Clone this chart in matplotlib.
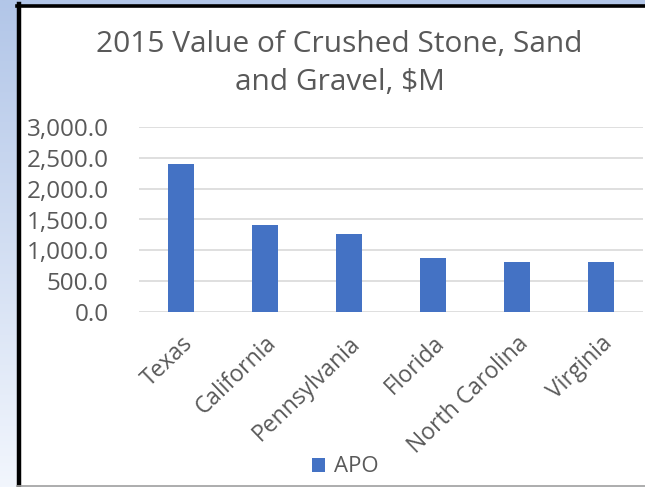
import numpy as np
import matplotlib
matplotlib.use("Agg")
import matplotlib.pyplot as plt
from matplotlib.patches import Rectangle

# data
states = ["Texas", "California", "Pennsylvania", "Florida", "North Carolina", "Virginia"]
values = [2400.0, 1405.0, 1265.0, 870.0, 812.0, 810.0]
series_name = "APO"
yticks = [0, 500, 1000, 1500, 2000, 2500, 3000]

plt.rcParams['font.family'] = ['Open Sans', 'DejaVu Sans']

W, H = 645, 487
fig = plt.figure(figsize=(W / 100, H / 100), dpi=100)

# blue slide background (gradient) behind the chart frame
bg = fig.add_axes([0, 0, 1, 1], zorder=0)
grad = np.linspace(0, 1, 256)[:, None]
top = np.array([178, 198, 232]) / 255
bot = np.array([242, 246, 253]) / 255
img = top[None, None, :] * (1 - grad[:, :, None]) + bot[None, None, :] * grad[:, :, None]
bg.imshow(img, aspect='auto', extent=[0, W, H, 0])
bg.set_xlim(0, W)
bg.set_ylim(H, 0)
bg.axis('off')
# white chart area with dark frame
bg.add_patch(Rectangle((17, 5), W, 481, facecolor='white', edgecolor='none'))
bg.plot([18.5, 18.5], [4, 486], color='black', lw=3.2)
bg.plot([17, W], [5.5, 5.5], color='black', lw=2.6)
bg.plot([17, W], [486, 486], color='#a0a0a0', lw=1.2)

# the chart
ax = fig.add_axes([139 / W, 175 / H, 504 / W, 185 / H], zorder=1)
ax.patch.set_alpha(0)
x = np.arange(len(states))
ax.bar(x, values, width=0.31, color='#4472C4', label=series_name, zorder=3)
ax.set_xlim(-0.5, len(states) - 0.5)
ax.set_ylim(0, 3000)
ax.set_yticks(yticks)
ax.set_yticklabels([f"{v:,.1f}" for v in yticks], fontsize=17.5, color='#595959')
ax.set_xticks(x)
ax.set_xticklabels(states, rotation=44, ha='right', rotation_mode='anchor',
                   fontsize=16.5, color='#595959')
ax.tick_params(axis='both', length=0)
ax.tick_params(axis='y', pad=22)
ax.tick_params(axis='x', pad=14)
ax.grid(axis='y', color='#d9d9d9', lw=1.2, zorder=0)
for s in ax.spines.values():
    s.set_visible(False)

fig.text(339 / W, 1 - 45 / H, "2015 Value of Crushed Stone, Sand", ha='center', va='center',
         fontsize=21.5, color='#595959')
fig.text(340 / W, 1 - 83 / H, "and Gravel, $M", ha='center', va='center',
         fontsize=21.5, color='#595959')

fig.legend(loc='center', bbox_to_anchor=(345 / W, 1 - 467 / H), frameon=False,
           fontsize=16, labelcolor='#595959', handlelength=0.6, handleheight=0.6,
           handletextpad=0.4)

fig.savefig("out.png", dpi=100)
